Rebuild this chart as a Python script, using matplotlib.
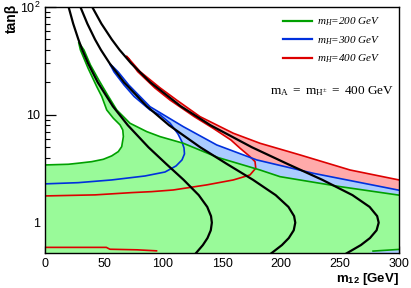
import matplotlib
matplotlib.use("Agg")
import matplotlib.pyplot as plt  # noqa: E402
from matplotlib.ticker import FixedLocator, FuncFormatter, MultipleLocator, NullFormatter  # noqa: E402

plt.rcParams["font.family"] = ["Liberation Sans", "DejaVu Sans"]
plt.rcParams["mathtext.fontset"] = "custom"
plt.rcParams["mathtext.rm"] = "Liberation Serif"
plt.rcParams["mathtext.it"] = "Liberation Serif:italic"
plt.rcParams["mathtext.bf"] = "Liberation Sans:bold"
plt.rcParams["mathtext.sf"] = "Liberation Sans"

XMIN, XMAX = 0, 300
YMIN, YMAX = 0.52, 100

# black curves (tanb, m12) for the three mH values
TB_CURVE = [100, 70, 50, 40, 30, 20, 12, 8, 5, 3.5, 2.5, 1.8, 1.4, 1.15, 1.0, 0.85, 0.72, 0.62, 0.5]
M12_200 = [20.0, 23.9, 28.3, 31.6, 36.5, 44.7, 57.5, 70.2, 87.7, 102.8, 117.4, 130.3,
           137.5, 140.7, 141.4, 140.5, 137.7, 133.8, 126.5]
M12_300 = [30.0, 35.9, 42.4, 47.4, 54.8, 67.0, 86.3, 105.2, 131.6, 154.2, 176.2, 195.5,
           206.3, 211.1, 212.1, 210.8, 206.6, 200.8, 189.8]
M12_400 = [40.0, 47.8, 56.6, 63.2, 73.0, 89.3, 115.1, 140.3, 175.4, 205.6, 234.9, 260.6,
           275.1, 281.5, 282.8, 281.0, 275.4, 267.7, 253.0]

# mH = 200: allowed region boundary (inner pocket edge, then outer edge)
G_LOW_X = [0, 19.7, 28.2, 39.6, 49.4, 56.5, 62.1, 65.0, 66.4, 65.9, 63.6, 57.9, 52.3,
           48.1, 43.8, 36.4, 30.0, 28.5]
G_LOW_Y = [3.43, 3.48, 3.56, 3.68, 3.87, 4.16, 4.56, 5.07, 6.28, 7.24, 8.06, 9.30, 11.1,
           14.8, 18.3, 27.2, 40.0, 47.0]
G_UP_X = [28.5, 33.0, 38.5, 45.5, 53.0, 60.8, 72.0, 86.2, 97.5, 117.2, 146.6, 182.2,
          199.2, 250.0, 300.0]
G_UP_Y = [47.0, 40.0, 29.0, 21.1, 15.3, 11.1, 8.36, 6.99, 6.28, 5.45, 4.02, 3.08,
          2.67, 2.16, 1.80]
G_BR_X = [300, 278, 274]
G_BR_Y = [0.565, 0.545, 0.52]

# mH = 300
B_LOW_X = [0, 28.2, 56.5, 84.7, 101.7, 111.1, 116.1, 118.2, 117.8, 116.1, 112.7, 106.0,
           97.5, 89.0, 75.5, 67.0, 58.5, 55.0]
B_LOW_Y = [2.29, 2.35, 2.49, 2.71, 2.95, 3.36, 3.82, 4.34, 4.93, 5.61, 6.65, 8.36,
           9.98, 11.1, 14.8, 18.9, 25.0, 29.5]
B_UP_X = [55.0, 57.5, 62.0, 71.0, 80.5, 89.0, 117.2, 145.5, 179.4, 227.4, 300.0]
B_UP_Y = [29.5, 28.0, 25.0, 18.9, 14.8, 11.9, 7.77, 5.26, 3.82, 2.87, 2.00]

# mH = 400
R_LOW_X = [0, 42.4, 73.5, 90.4, 108.7, 137.0, 159.6, 173.7, 178.6, 178.0, 173.7, 165.3,
           157.5, 142.5, 126.5, 106.0, 93.0, 78.5, 69.0]
R_LOW_Y = [1.77, 1.81, 1.90, 1.94, 2.01, 2.24, 2.49, 2.77, 3.20, 3.68, 4.10, 4.90,
           5.85, 7.5, 9.62, 13.7, 17.8, 25.2, 35.0]
R_UP_X = [69.0, 70.5, 80.5, 97.5, 111.6, 131.4, 159.6, 182.2, 216.1, 258.5, 300.0]
R_UP_Y = [35.0, 33.7, 25.2, 17.8, 13.7, 9.62, 6.75, 5.45, 4.25, 3.08, 2.49]
R_BOT_X = [0, 52, 55, 78, 94.5]
R_BOT_Y = [0.59, 0.59, 0.567, 0.56, 0.548]

LABELS = ["=200 GeV", "=300 GeV", "=400 GeV"]

GREEN, BLUE, RED = "#00a000", "#0030dd", "#dd0000"
GREEN_F, BLUE_F, RED_F = "#99fa99", "#aaccff", "#ffaaaa"

fig = plt.figure(figsize=(4.11, 2.88), dpi=100)
ax = fig.add_axes([0.1095, 0.1205, 0.8613, 0.8552])
ax.set_yscale("log")

# filled regions, red under blue under green
ax.fill([0] + R_LOW_X + R_UP_X + [300], [0.5] + R_LOW_Y + R_UP_Y + [0.5],
        color=RED_F, lw=0, zorder=1)
ax.fill([0] + B_LOW_X + B_UP_X + [300], [0.5] + B_LOW_Y + B_UP_Y + [0.5],
        color=BLUE_F, lw=0, zorder=2)
ax.fill([0] + G_LOW_X + G_UP_X + G_BR_X, [0.5] + G_LOW_Y + G_UP_Y + G_BR_Y,
        color=GREEN_F, lw=0, zorder=3)

lw = 1.2
ax.plot(R_LOW_X + R_UP_X, R_LOW_Y + R_UP_Y, c=RED, lw=lw, zorder=4)
ax.plot(R_BOT_X, R_BOT_Y, c=RED, lw=lw, zorder=4)
ax.plot(B_LOW_X + B_UP_X, B_LOW_Y + B_UP_Y, c=BLUE, lw=lw, zorder=4)
ax.plot(G_LOW_X + G_UP_X, G_LOW_Y + G_UP_Y, c=GREEN, lw=lw, zorder=4)
ax.plot(G_BR_X[:2], G_BR_Y[:2], c=GREEN, lw=lw, zorder=4)

for m in (M12_200, M12_300, M12_400):
    ax.plot(m, TB_CURVE, c="black", lw=1.6, zorder=5)

# legend
hs = [ax.plot([], [], c=c, lw=1.6)[0] for c in (GREEN, BLUE, RED)]
ax.legend(hs, [r"$m_H$" + s for s in LABELS], loc="upper right",
          bbox_to_anchor=(0.949, 0.965), frameon=False, borderpad=0, borderaxespad=0,
          handlelength=2.6, handletextpad=0.5, labelspacing=0.55,
          prop={"family": "Liberation Serif", "style": "italic", "size": 8})
ax.text(0.636, 0.66, r"$\mathrm{m_A\ =\ m_{H^{\pm}}\ =\ 400\ GeV}$", transform=ax.transAxes,
        ha="left", va="center", fontsize=9.5)

ax.set_xlim(XMIN, XMAX)
ax.set_ylim(YMIN, YMAX)
ax.xaxis.set_major_locator(MultipleLocator(50))
ax.xaxis.set_minor_locator(MultipleLocator(10))
ax.yaxis.set_major_locator(FixedLocator([1, 10, 100]))
ax.yaxis.set_minor_locator(FixedLocator([k * 10 ** e for e in (-1, 0, 1) for k in range(2, 10)]))
ax.yaxis.set_minor_formatter(NullFormatter())
ax.yaxis.set_major_formatter(FuncFormatter(
    lambda v, p: r"$\mathsf{10^{2}}$" if v > 50 else f"{v:g}"))
ax.tick_params(which="both", direction="in", top=False, right=False, labelsize=9, pad=3.5)
ax.tick_params(axis="x", which="major", length=5, width=0.9)
ax.tick_params(axis="x", which="minor", length=3.3, width=0.8)
ax.tick_params(axis="y", which="major", length=8, width=0.9)
ax.tick_params(axis="y", which="minor", length=3.6, width=0.8)
for sp in ax.spines.values():
    sp.set_linewidth(1.0)
    sp.set_zorder(6)

fig.text(399 / 411, 1 - 271 / 288, r"m$_{\mathbf{12}}$ [GeV]", ha="right", va="top",
         fontsize=9.5, fontweight="bold")
fig.text(12 / 411, 1 - 4 / 288, "tanβ", rotation=90, ha="center", va="top",
         fontsize=10, fontweight="bold")

fig.savefig("out.png", dpi=100)
